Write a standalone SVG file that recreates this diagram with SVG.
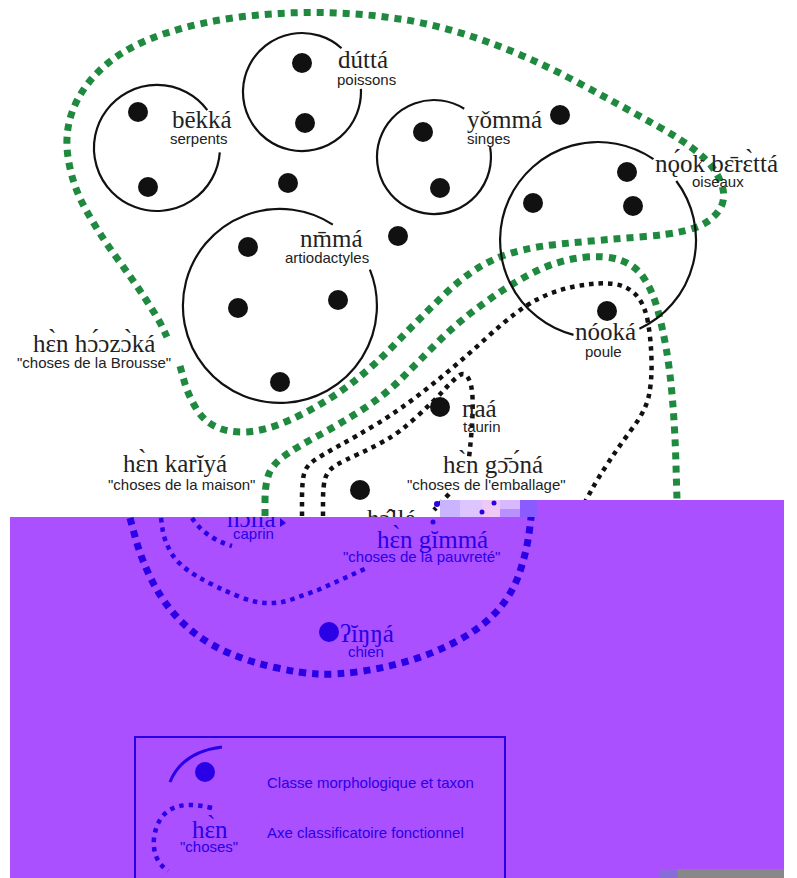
<svg xmlns="http://www.w3.org/2000/svg" width="797" height="878" viewBox="0 0 797 878">
<style>
.circ{fill:none;stroke:#111;stroke-width:2.2}
.dot{fill:#111}
.g{fill:none;stroke:#1f8a3f;stroke-width:7;stroke-dasharray:7 6}
.k{fill:none;stroke:#111;stroke-width:4.5;stroke-dasharray:4.5 5}
.bh{fill:none;stroke:#2a00e6;stroke-width:7;stroke-dasharray:7 6}
.bd{fill:none;stroke:#2a00e6;stroke-width:4.5;stroke-dasharray:4.5 5}
.ipa{font-family:"Liberation Serif","DejaVu Serif",serif;font-size:25px;fill:#222}
.lat{font-family:"Liberation Sans",Arial,sans-serif;font-size:15px;fill:#222}
.blue .ipa,.blue .lat{fill:#2a00e6}
.bdot{fill:#2a00e6}
</style>
<defs>
<clipPath id="purpleClip"><path d="M10,517 H537 V500 H784 V869 H660 V878 H10 Z"/></clipPath>
</defs>
<rect width="797" height="878" fill="#fff"/>

<g id="connectors">
<path id="axe-brousse" class="g" d="M180,366 L184,380.5 Q188,395 196.5,409 Q205,423 220,428.5 Q235,434 255,431 Q275,428 302.5,414 Q330,400 352.5,382.5 Q375,365 397.5,341.5 Q420,318 445,294 Q470,270 495,259 Q520,248 560,244 Q600,240 645,236.5 Q690,233 706,222.5 Q722,212 723.5,198.5 Q725,185 712.5,167.5 Q700,150 660,127.5 Q620,105 575,81 Q530,57 485,41 Q440,25 400,19 Q360,13 320,12.5 Q280,12 240,17 Q200,22 165,33.5 Q130,45 107.5,63.5 Q85,82 74.5,106 Q64,130 68,157 Q72,185 86,210 Q100,235 116.5,257.5 Q133,280 145.5,299 Q158,318 162.5,327.5 L167,337"/>
<path id="axe-maison" class="g" d="M265,516 L265,500.5 Q265,485 268.5,475 Q272,465 283.5,456.5 Q295,448 317.5,436 Q340,424 362.5,409.5 Q385,395 402.5,377.5 Q420,360 440,340 Q460,320 488.5,300 Q517,280 538.5,270 Q560,260 582.5,257.5 Q605,255 620,260 Q635,265 643.5,277.5 Q652,290 657,307.5 Q662,325 666,347.5 Q670,370 672.5,400 Q675,430 676,465 L677,500"/>
<path id="axe-emballage" class="k" d="M302,516 L302,499 Q302,482 304,474 Q306,466 314,460.5 Q322,455 338.5,446 Q355,437 377.5,423.5 Q400,410 429,387 Q458,364 487.5,337 Q517,310 536,300 Q555,290 577.5,286 Q600,282 614,284 Q628,286 636.5,295.5 Q645,305 648,322.5 Q651,340 651.5,360 Q652,380 649,395 Q646,410 633,427.5 Q620,445 609,461.5 Q598,478 591.5,490 L585,502"/>
<path id="axe-inner" class="k" d="M323,516 L323,500.5 Q323,485 325.5,477.5 Q328,470 336.5,465 Q345,460 358.5,454 Q372,448 386,440 Q400,432 416.5,417 Q433,402 444,390 Q455,378 460,375 Q465,372 468.5,378.5 Q472,385 472.5,397.5 Q473,410 472,425 Q471,440 469,458"/>
<path class="k" d="M449,494 L434,510"/>
</g>

<g id="node-bekka">
<path class="circ" d="M219.8,152.4 A63,63 0 1 1 207.3,110.1"/>
<circle class="dot" cx="138" cy="112" r="10"/>
<circle class="dot" cx="148" cy="187" r="10"/>
<text class="ipa" x="172" y="128">bēkká</text>
<text class="lat" x="170" y="144">serpents</text>
</g>
<g id="node-dutta">
<path class="circ" d="M360.9,88.9 A59,59 0 1 1 341.5,48.2"/>
<circle class="dot" cx="302" cy="63" r="10"/>
<circle class="dot" cx="305" cy="123" r="10"/>
<text class="ipa" x="338" y="68">dúttá</text>
<text class="lat" x="337" y="85">poissons</text>
</g>
<g id="node-yomma">
<path class="circ" d="M490.1,147.1 A57,57 0 1 1 464.2,108.7"/>
<circle class="dot" cx="423" cy="132" r="10"/>
<circle class="dot" cx="440" cy="188" r="10"/>
<text class="ipa" x="467" y="128">yǒmmá</text>
<text class="lat" x="467" y="144">singes</text>
</g>
<g id="dot-free-1"><circle class="dot" cx="288" cy="183" r="10"/></g>
<g id="dot-free-2"><circle class="dot" cx="398" cy="236" r="10"/></g>
<g id="dot-free-3"><circle class="dot" cx="560" cy="115" r="10"/></g>
<g id="node-nmma">
<path class="circ" d="M369.9,269.7 A97,97 0 1 1 332.8,224.6"/>
<circle class="dot" cx="248" cy="247" r="10"/>
<circle class="dot" cx="238" cy="308" r="10"/>
<circle class="dot" cx="338" cy="300" r="10"/>
<circle class="dot" cx="280" cy="382" r="10"/>
<text class="ipa" x="300" y="247">nm̄má</text>
<text class="lat" x="285" y="263">artiodactyles</text>
</g>
<g id="node-nook-beretta">
<path class="circ" d="M676.3,181 A98,98 0 0 1 639.4,328.8"/>
<path class="circ" d="M573.5,334.9 A98,98 0 1 1 653.5,159.2"/>
<circle class="dot" cx="627" cy="172" r="10"/>
<circle class="dot" cx="533" cy="203" r="10"/>
<circle class="dot" cx="633" cy="206" r="10"/>
<text class="ipa" x="655" y="172">nǫ́ok bɛ̄rɛ̀ttá</text>
<text class="lat" x="692" y="187">oiseaux</text>
</g>
<g id="node-nooka">
<circle class="dot" cx="607" cy="311" r="10"/>
<text class="ipa" x="575" y="340">nóoká</text>
<text class="lat" x="585" y="357">poule</text>
</g>
<g id="node-naa">
<circle class="dot" cx="440" cy="407" r="10"/>
<text class="ipa" x="462" y="417">naá</text>
<text class="lat" x="463" y="432">taurin</text>
</g>
<g id="node-holle">
<circle class="dot" cx="360" cy="490" r="10"/>
<text class="ipa" x="367" y="527">hɔ̂llé</text>
</g>
<g id="label-brousse">
<text class="ipa" x="33" y="352">hɛ̀n hɔ́ɔzɔ̀ká</text>
<text class="lat" x="17" y="368">"choses de la Brousse"</text>
</g>
<g id="label-maison">
<text class="ipa" x="123" y="472">hɛ̀n karĭyá</text>
<text class="lat" x="108" y="490">"choses de la maison"</text>
</g>
<g id="label-emballage">
<text class="ipa" x="443" y="473">hɛ̀n gɔ̄ɔ́ná</text>
<text class="lat" x="407" y="490">"choses de l'emballage"</text>
</g>

<path id="overlay" d="M10,517 H537 V500 H784 V869 H660 V878 H10 Z" fill="#aa50ff"/>
<g id="glitch">
<rect x="440" y="500" width="20" height="17" fill="#c9b4ff"/>
<rect x="460" y="500" width="22" height="17" fill="#ddc6ff"/>
<rect x="482" y="500" width="18" height="17" fill="#f0c8f6"/>
<rect x="500" y="500" width="20" height="17" fill="#d8b8ff"/>
<rect x="520" y="500" width="17" height="17" fill="#8a5cff"/>
<rect x="500" y="509" width="20" height="8" fill="#b890ff"/>
<circle cx="437" cy="504" r="3" fill="#2a00e6"/>
<circle cx="482" cy="512" r="2.5" fill="#2a00e6"/>
<circle cx="494" cy="503" r="2.5" fill="#2a00e6"/>
<rect x="660" y="869" width="18" height="9" fill="#8a6cd8"/>
<rect x="678" y="869" width="106" height="9" fill="#888"/>
</g>

<g class="blue" clip-path="url(#purpleClip)">
<path class="bh" d="M130,518 L135,536.5 Q140,555 148.5,573.5 Q157,592 168.5,607 Q180,622 195,633.5 Q210,645 230,653.5 Q250,662 275,667.5 Q300,673 317.5,674 Q335,675 360,671.5 Q385,668 410,660.5 Q435,653 459,640 Q483,627 498,610 Q513,593 520,571.5 Q527,550 529.5,530 Q532,510 533,500"/>
<path class="bd" d="M161,518 L162.5,529 Q164,540 171,552.5 Q178,565 196.5,576 Q215,587 241.5,597.5 Q268,608 293,599 L318,590 L367,568"/>
<path class="bd" d="M192,518 Q205,538 232,546"/>
<path d="M280,518 L286,523 L280,527 Z" fill="#2a00e6"/>
<circle class="bdot" cx="433" cy="522" r="2.5"/>
<text class="ipa" x="227" y="527">hɔllá</text>
<text class="lat" x="233" y="539">caprin</text>
<text class="ipa" x="377" y="548">hɛ̀n gĭmmá</text>
<text class="lat" x="343" y="562">"choses de la pauvreté"</text>
<circle class="bdot" cx="329" cy="632" r="10"/>
<text class="ipa" x="340" y="642">ʔĭŋŋá</text>
<text class="lat" x="348" y="657">chien</text>
<g id="legend">
<rect x="135" y="737" width="370" height="160" fill="none" stroke="#2a00e6" stroke-width="2"/>
<path d="M170,782 Q182,752 222,747" fill="none" stroke="#2a00e6" stroke-width="3"/>
<circle class="bdot" cx="205" cy="772" r="10"/>
<text class="lat" x="267" y="788">Classe morphologique et taxon</text>
<path class="bd" d="M212,808 Q160,795 154,838 Q152,860 168,871"/>
<text class="ipa" x="192" y="838">hɛ̀n</text>
<text class="lat" x="180" y="852">"choses"</text>
<text class="lat" x="267" y="838">Axe classificatoire fonctionnel</text>
</g>
</g>
</svg>
